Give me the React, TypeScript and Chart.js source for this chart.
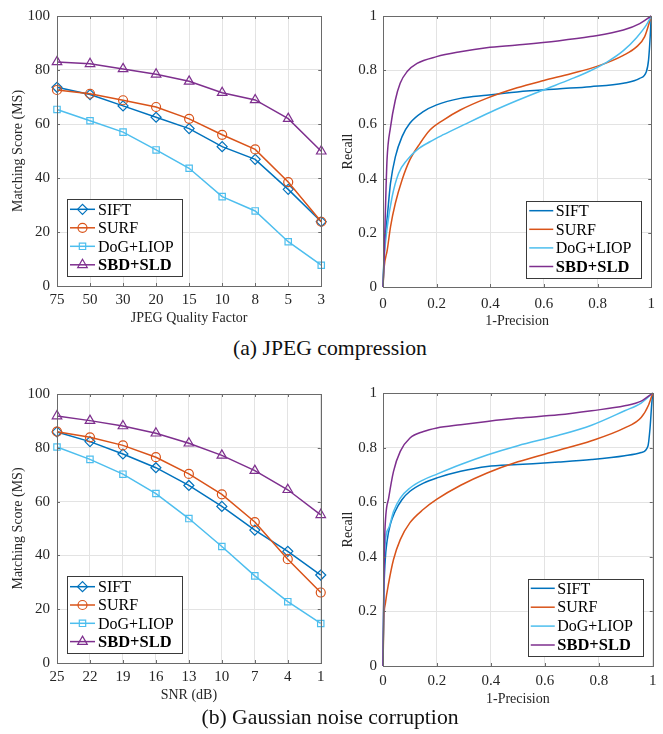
import React, { useEffect, useRef } from "react";
import { Chart, registerables } from "chart.js";
import { drawPoint } from "chart.js/helpers";

Chart.register(...registerables);

const FONT = "'Liberation Serif', 'Times New Roman', serif";
const AXIS_TEXT = "#262626";
const GRID = "#e3e3e3";
const FRAME = "#6a6a6a";

const seriesNames = ["SIFT", "SURF", "DoG+LIOP", "SBD+SLD"];
const seriesColors = ["#0072BD", "#D95319", "#4DBEEE", "#7E2F8E"];
const seriesMarkers = ["rectRot", "circle", "rect", "triangle"];
const markerRadii = [5, 4.5, 4.5, 5.5];

// (a) JPEG compression — matching score
const jpegLabels = ["75", "50", "30", "20", "15", "10", "8", "5", "3"];
const jpegSift = [73.6, 70.9, 66.7, 62.5, 58.3, 51.6, 46.9, 35.8, 23.8];
const jpegSurf = [72.6, 71.2, 68.8, 66.3, 61.9, 56.0, 50.6, 38.5, 23.8];
const jpegDog = [65.4, 61.2, 57.0, 50.4, 43.6, 33.1, 27.8, 16.4, 7.7];
const jpegSbd = [83.0, 82.3, 80.4, 78.4, 75.8, 71.6, 68.9, 62.0, 49.9];

// (b) Gaussian noise — matching score
const snrLabels = ["25", "22", "19", "16", "13", "10", "7", "4", "1"];
const snrSift = [85.9, 82.3, 77.7, 72.6, 66.0, 58.2, 49.4, 41.5, 32.7];
const snrSurf = [86.0, 83.9, 80.9, 76.5, 70.3, 62.7, 52.4, 38.6, 26.2];
const snrDog = [80.3, 75.7, 70.2, 63.0, 53.7, 43.3, 32.4, 22.8, 14.7];
const snrSbd = [91.8, 90.1, 88.1, 85.4, 81.7, 77.2, 71.5, 64.4, 55.1];

// (a) JPEG compression — recall vs 1-precision
const prJpegSift = [[0, 0], [0.004, 0.12], [0.01, 0.2], [0.016, 0.26], [0.028, 0.383], [0.046, 0.48], [0.071, 0.555], [0.1, 0.604], [0.15, 0.647], [0.2, 0.672], [0.288, 0.696], [0.386, 0.708], [0.5, 0.72], [0.651, 0.731], [0.773, 0.739], [0.896, 0.752], [0.957, 0.77], [0.982, 0.795], [0.99, 0.838], [0.996, 0.923], [1, 1]];
const prJpegSurf = [[0, 0], [0.004, 0.07], [0.016, 0.137], [0.028, 0.222], [0.046, 0.309], [0.071, 0.395], [0.1, 0.469], [0.138, 0.53], [0.175, 0.579], [0.225, 0.616], [0.288, 0.653], [0.386, 0.696], [0.5, 0.735], [0.6, 0.762], [0.7, 0.787], [0.8, 0.815], [0.896, 0.855], [0.945, 0.886], [0.975, 0.923], [1, 1]];
const prJpegDog = [[0, 0], [0.004, 0.1], [0.016, 0.222], [0.034, 0.333], [0.058, 0.419], [0.09, 0.469], [0.127, 0.506], [0.175, 0.536], [0.225, 0.562], [0.3, 0.598], [0.4, 0.645], [0.5, 0.688], [0.6, 0.728], [0.7, 0.767], [0.773, 0.798], [0.835, 0.83], [0.896, 0.872], [0.945, 0.92], [0.982, 0.967], [1, 1]];
const prJpegSbd = [[0, 0], [0.004, 0.1], [0.009, 0.284], [0.015, 0.469], [0.028, 0.59], [0.046, 0.69], [0.064, 0.752], [0.09, 0.795], [0.127, 0.825], [0.2, 0.85], [0.288, 0.868], [0.386, 0.883], [0.5, 0.893], [0.651, 0.908], [0.773, 0.924], [0.896, 0.948], [0.957, 0.972], [1, 1]];

// (b) Gaussian noise — recall vs 1-precision
const prNoiseSift = [[0, 0], [0.003, 0.25], [0.008, 0.384], [0.015, 0.457], [0.027, 0.518], [0.045, 0.566], [0.07, 0.609], [0.1, 0.64], [0.15, 0.67], [0.2, 0.689], [0.288, 0.713], [0.386, 0.731], [0.5, 0.738], [0.651, 0.747], [0.773, 0.756], [0.896, 0.77], [0.957, 0.782], [0.982, 0.805], [0.99, 0.872], [0.996, 0.957], [1, 1]];
const prNoiseSurf = [[0, 0], [0.003, 0.165], [0.009, 0.23], [0.021, 0.304], [0.039, 0.39], [0.064, 0.463], [0.1, 0.525], [0.15, 0.574], [0.2, 0.611], [0.288, 0.662], [0.386, 0.707], [0.5, 0.748], [0.651, 0.79], [0.773, 0.825], [0.896, 0.872], [0.957, 0.91], [0.985, 0.957], [1, 1]];
const prNoiseDog = [[0, 0], [0.002, 0.165], [0.005, 0.408], [0.021, 0.505], [0.039, 0.566], [0.064, 0.615], [0.1, 0.652], [0.15, 0.682], [0.2, 0.703], [0.288, 0.738], [0.386, 0.773], [0.5, 0.807], [0.651, 0.845], [0.773, 0.882], [0.896, 0.935], [0.957, 0.963], [1, 1]];
const prNoiseSbd = [[0, 0], [0.003, 0.286], [0.006, 0.469], [0.021, 0.615], [0.039, 0.713], [0.064, 0.786], [0.1, 0.835], [0.15, 0.859], [0.2, 0.872], [0.288, 0.884], [0.386, 0.896], [0.5, 0.908], [0.651, 0.92], [0.773, 0.935], [0.896, 0.953], [0.957, 0.97], [1, 1]];

type LegendSpec = {
  corner: "bl" | "br";
  dx: number;
  dy: number;
  w: number;
  h: number;
  firstRow: number;
  rowGap: number;
  lineStart: number;
  lineEnd: number;
  textStart: number;
};

function framePlugin(legend: LegendSpec) {
  return {
    id: "frameAndLegend",
    afterDraw(chart: any) {
      const { ctx, chartArea } = chart;
      const { left, right, top, bottom } = chartArea;
      ctx.save();
      ctx.strokeStyle = FRAME;
      ctx.lineWidth = 1;
      const xs = chart.scales.x;
      const ys = chart.scales.y;
      const tl = 3;
      ctx.beginPath();
      xs.ticks.forEach((_t: any, i: number) => {
        const px = Math.round(xs.getPixelForTick(i)) + 0.5;
        ctx.moveTo(px, bottom);
        ctx.lineTo(px, bottom - tl);
        ctx.moveTo(px, top);
        ctx.lineTo(px, top + tl);
      });
      ys.ticks.forEach((_t: any, i: number) => {
        const py = Math.round(ys.getPixelForTick(i)) + 0.5;
        ctx.moveTo(left, py);
        ctx.lineTo(left + tl, py);
        ctx.moveTo(right, py);
        ctx.lineTo(right - tl, py);
      });
      ctx.stroke();
      ctx.strokeRect(Math.round(left) + 0.5, Math.round(top) + 0.5, Math.round(right - left), Math.round(bottom - top));

      const bx = legend.corner === "bl" ? left + legend.dx : right - legend.dx - legend.w;
      const by = bottom - legend.dy - legend.h;
      ctx.fillStyle = "#ffffff";
      ctx.fillRect(bx, by, legend.w, legend.h);
      ctx.strokeStyle = "#3a3a3a";
      ctx.lineWidth = 1;
      ctx.strokeRect(Math.round(bx) + 0.5, Math.round(by) + 0.5, legend.w, legend.h);
      chart.data.datasets.forEach((ds: any, i: number) => {
        const cy = by + legend.firstRow + i * legend.rowGap;
        ctx.strokeStyle = ds.borderColor;
        ctx.lineWidth = ds.borderWidth;
        ctx.beginPath();
        ctx.moveTo(bx + legend.lineStart, cy);
        ctx.lineTo(bx + legend.lineEnd, cy);
        ctx.stroke();
        if (ds.pointRadius > 0) {
          ctx.fillStyle = "rgba(0,0,0,0)";
          ctx.strokeStyle = ds.borderColor;
          ctx.lineWidth = ds.pointBorderWidth;
          drawPoint(ctx, { pointStyle: ds.pointStyle, radius: ds.pointRadius, rotation: 0, borderWidth: ds.pointBorderWidth } as any, bx + (legend.lineStart + legend.lineEnd) / 2, cy);
        }
        ctx.fillStyle = "#000000";
        ctx.font = (i === 3 ? "bold 16.5px " : "16px ") + FONT;
        ctx.textAlign = "left";
        ctx.textBaseline = "middle";
        ctx.fillText(ds.label, bx + legend.textStart, cy + 1);
      });
      ctx.restore();
    },
  };
}

type Layout = {
  padTop: number;
  padRight: number;
  yWidth: number;
  xHeight: number;
  xTickPad: number;
  xTitlePadBottom: number;
  yTickPad: number;
};

function baseScales(lay: Layout, xTitle: string, yTitle: string) {
  const tickFont = { family: FONT, size: 15 };
  const titleFont = { family: FONT, size: 14 };
  return {
    x: {
      grid: { color: GRID, drawTicks: false, lineWidth: 1 },
      border: { display: false },
      ticks: { color: AXIS_TEXT, font: tickFont, padding: lay.xTickPad, maxRotation: 0, autoSkip: false },
      title: { display: true, text: xTitle, color: AXIS_TEXT, font: titleFont, padding: { top: 0, bottom: lay.xTitlePadBottom } },
      afterFit: (s: any) => {
        s.height = lay.xHeight;
      },
    },
    y: {
      grid: { color: GRID, drawTicks: false, lineWidth: 1 },
      border: { display: false },
      ticks: { color: AXIS_TEXT, font: tickFont, padding: lay.yTickPad },
      title: { display: true, text: yTitle, color: AXIS_TEXT, font: titleFont, padding: { top: 9.6, bottom: 0 } },
      afterFit: (s: any) => {
        s.width = lay.yWidth;
      },
    },
  };
}

function scoreConfig(labels: string[], series: number[][], xTitle: string, lay: Layout, legend: LegendSpec) {
  const sc: any = baseScales(lay, xTitle, "Matching Score (MS)");
  sc.x.type = "category";
  sc.x.offset = false;
  sc.y.type = "linear";
  sc.y.min = 0;
  sc.y.max = 100;
  sc.y.ticks.stepSize = 20;
  return {
    type: "line",
    data: {
      labels,
      datasets: series.map((vals, i) => ({
        label: seriesNames[i],
        data: vals,
        borderColor: seriesColors[i],
        backgroundColor: "rgba(0,0,0,0)",
        borderWidth: 1.5,
        pointStyle: seriesMarkers[i],
        pointRadius: markerRadii[i],
        pointBorderWidth: 1.2,
        pointBorderColor: seriesColors[i],
        pointBackgroundColor: "rgba(0,0,0,0)",
        tension: 0,
        clip: false,
        order: 3 - i,
      })),
    },
    options: {
      responsive: false,
      animation: false,
      events: [],
      layout: { padding: { left: 0, top: lay.padTop, right: lay.padRight, bottom: 0 } },
      plugins: { legend: { display: false }, tooltip: { enabled: false } },
      scales: sc,
    },
    plugins: [framePlugin(legend)],
  };
}

function prConfig(series: number[][][], lay: Layout, legend: LegendSpec) {
  const sc: any = baseScales(lay, "1-Precision", "Recall");
  const fmt = (v: any) => String(Math.round(Number(v) * 10) / 10);
  sc.x.type = "linear";
  sc.x.min = 0;
  sc.x.max = 1;
  sc.x.ticks.stepSize = 0.2;
  sc.x.ticks.callback = fmt;
  sc.y.type = "linear";
  sc.y.min = 0;
  sc.y.max = 1;
  sc.y.ticks.stepSize = 0.2;
  sc.y.ticks.callback = fmt;
  return {
    type: "line",
    data: {
      datasets: series.map((pts, i) => ({
        label: seriesNames[i],
        data: pts.map(([x, y]) => ({ x, y })),
        borderColor: seriesColors[i],
        backgroundColor: "rgba(0,0,0,0)",
        borderWidth: 1.5,
        pointRadius: 0,
        pointBorderWidth: 0,
        cubicInterpolationMode: "monotone",
        clip: false,
        order: 3 - i,
      })),
    },
    options: {
      responsive: false,
      animation: false,
      events: [],
      layout: { padding: { left: 0, top: lay.padTop, right: lay.padRight, bottom: 0 } },
      plugins: { legend: { display: false }, tooltip: { enabled: false } },
      scales: sc,
    },
    plugins: [framePlugin(legend)],
  };
}

function ChartBox(props: { left: number; top: number; width: number; height: number; config: any }) {
  const ref = useRef<HTMLCanvasElement>(null);
  useEffect(() => {
    const chart = new Chart(ref.current as HTMLCanvasElement, props.config);
    return () => chart.destroy();
  }, []);
  return (
    <div style={{ position: "absolute", left: props.left, top: props.top, width: props.width, height: props.height }}>
      <canvas ref={ref} width={props.width} height={props.height} style={{ width: props.width, height: props.height, display: "block" }} />
    </div>
  );
}

const legendLeftTop: LegendSpec = { corner: "bl", dx: 10, dy: 10, w: 115, h: 77, firstRow: 10.3, rowGap: 18.5, lineStart: 3, lineEnd: 28, textStart: 31 };
const legendRightTop: LegendSpec = { corner: "br", dx: 10, dy: 9, w: 115, h: 77, firstRow: 9.7, rowGap: 18.6, lineStart: 3, lineEnd: 27, textStart: 29.5 };
const legendLeftBottom: LegendSpec = { corner: "bl", dx: 10, dy: 10, w: 115, h: 77, firstRow: 10.7, rowGap: 18.3, lineStart: 3, lineEnd: 28, textStart: 31 };
const legendRightBottom: LegendSpec = { corner: "br", dx: 10, dy: 10, w: 115, h: 77, firstRow: 9.3, rowGap: 18.9, lineStart: 3, lineEnd: 27, textStart: 29.5 };

export default function App() {
  const cfgA1 = scoreConfig(jpegLabels, [jpegSift, jpegSurf, jpegDog, jpegSbd], "JPEG Quality Factor",
    { padTop: 16, padRight: 4, yWidth: 57, xHeight: 44, xTickPad: 5, xTitlePadBottom: 3.6, yTickPad: 7 }, legendLeftTop);
  const cfgA2 = prConfig([prJpegSift, prJpegSurf, prJpegDog, prJpegSbd],
    { padTop: 16, padRight: 8, yWidth: 53, xHeight: 43, xTickPad: 8, xTitlePadBottom: 0, yTickPad: 6 }, legendRightTop);
  const cfgB1 = scoreConfig(snrLabels, [snrSift, snrSurf, snrDog, snrSbd], "SNR (dB)",
    { padTop: 16, padRight: 4, yWidth: 57, xHeight: 45, xTickPad: 5.5, xTitlePadBottom: 4.6, yTickPad: 7 }, legendLeftBottom);
  const cfgB2 = prConfig([prNoiseSift, prNoiseSurf, prNoiseDog, prNoiseSbd],
    { padTop: 15, padRight: 8, yWidth: 53, xHeight: 42, xTickPad: 6.5, xTitlePadBottom: 0.3, yTickPad: 6 }, legendRightBottom);

  const captionStyle: React.CSSProperties = {
    position: "absolute",
    left: 0,
    width: 660,
    textAlign: "center",
    fontFamily: FONT,
    fontSize: 21.7,
    lineHeight: "26px",
    color: "#111",
  };

  return (
    <div style={{ position: "absolute", left: 0, top: 0, width: 663, height: 734, background: "#ffffff", overflow: "hidden" }}>
      <ChartBox left={0} top={0} width={330} height={330} config={cfgA1} />
      <ChartBox left={330} top={0} width={333} height={330} config={cfgA2} />
      <div style={{ ...captionStyle, top: 335 }}>(a) JPEG compression</div>
      <ChartBox left={0} top={378} width={330} height={330} config={cfgB1} />
      <ChartBox left={330} top={378} width={333} height={330} config={cfgB2} />
      <div style={{ ...captionStyle, top: 704 }}>(b) Gaussian noise corruption</div>
    </div>
  );
}
